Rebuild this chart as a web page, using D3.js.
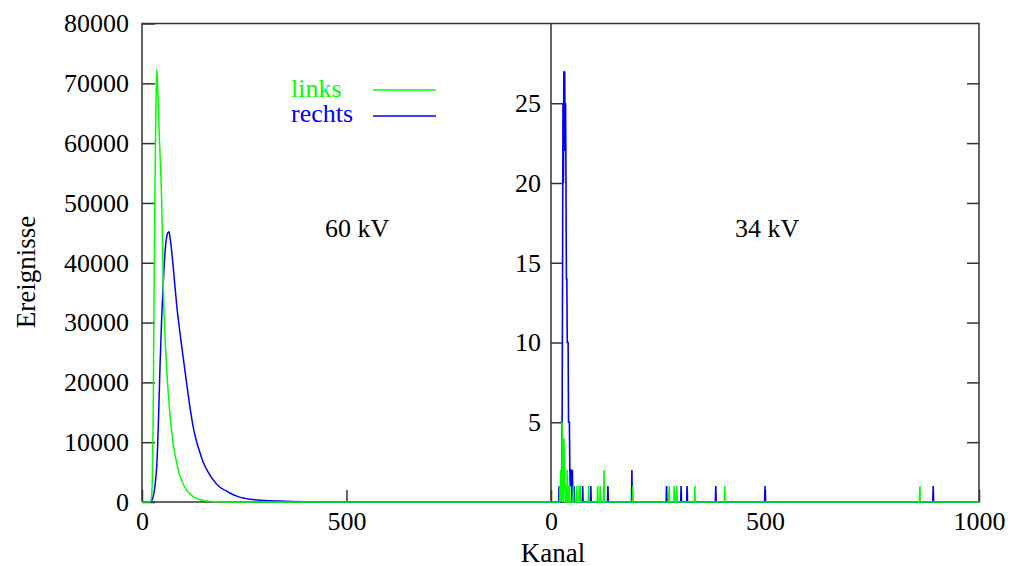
<!DOCTYPE html>
<html>
<head>
<meta charset="utf-8">
<script src="https://cdn.jsdelivr.net/npm/d3@7"></script>
<style>
  body { margin: 0; background: #fff; }
  text { font-family: "Liberation Serif", "DejaVu Serif", serif; }
</style>
</head>
<body>
<script>
'use strict';

// 60 kV spectrum (left), channel -> events
const leftGreenCh  = [0, 18, 22, 25, 27, 29, 31, 33, 35, 36, 38, 40, 43, 46, 48, 50, 52, 55, 60, 65, 70, 75, 80, 86, 93, 100, 110, 125, 140, 158, 180, 220, 280, 1000];
const leftGreenVal = [0, 0, 300, 3000, 12000, 30000, 48000, 60000, 70000, 72300, 70000, 66000, 60000, 55000, 50500, 44000, 36000, 30000, 22600, 17500, 13500, 10500, 8200, 6200, 4300, 3100, 1900, 900, 420, 170, 60, 15, 0, 0];
const leftBlueCh   = [0, 18, 22, 26, 30, 33, 36, 40, 44, 48, 52, 56, 60, 63, 66, 69, 72, 76, 80, 85, 93, 100, 109, 117, 125, 133, 142, 150, 160, 174, 190, 205, 215, 235, 264, 300, 337, 400, 500, 600, 1000];
const leftBlueVal  = [0, 0, 150, 600, 1800, 3500, 5900, 13000, 22600, 30500, 36600, 41500, 44200, 45000, 45200, 44000, 42300, 39600, 36500, 32800, 28200, 24500, 19900, 16000, 12600, 10200, 8200, 6600, 5200, 3700, 2500, 1900, 1500, 900, 450, 250, 150, 50, 10, 0, 0];

// 34 kV spectrum (right), only channels with events
const rightGreenCh  = [21, 23, 24, 26, 27, 28, 30, 31, 32, 33, 35, 38, 40, 43, 52, 60, 66, 68, 88, 109, 115, 124, 191, 276, 288, 294, 336, 406, 862];
const rightGreenCnt = [1, 2, 1, 5, 3, 2, 4, 3, 2, 1, 1, 2, 1, 1, 1, 1, 1, 1, 1, 1, 1, 2, 1, 1, 1, 1, 1, 1, 1];
const rightBlueCh   = [19, 25, 26, 27, 28, 29, 30, 31, 32, 33, 34, 35, 36, 37, 38, 39, 40, 41, 42, 43, 44, 45, 46, 47, 48, 50, 54, 74, 93, 133, 189, 270, 304, 318, 385, 500, 893];
const rightBlueCnt  = [1, 2, 5, 14, 25, 20, 27, 25, 27, 22, 25, 20, 14, 14, 10, 10, 10, 5, 5, 5, 2, 1, 2, 2, 1, 2, 1, 1, 1, 1, 2, 1, 1, 1, 1, 1, 1];

const leftYTicks  = [0, 10000, 20000, 30000, 40000, 50000, 60000, 70000, 80000];
const rightYTicks = [5, 10, 15, 20, 25];
const frameYTicks = [10000, 20000, 30000, 40000, 50000, 60000, 70000];
const leftXTicks  = [0, 500];
const rightXTicks = [0, 500, 1000];

const green = "#00ff00", blue = "#0000ff", frame = "#333";

let width = 1009, height = 566;

let svg = d3.select("body").append("svg")
  .attr("width", width)
  .attr("height", height);

// scales
let xL = d3.scaleLinear().domain([0, 1000]).range([142, 551]);
let xR = d3.scaleLinear().domain([0, 1000]).range([551, 979]);
let yL = d3.scaleLinear().domain([0, 80000]).range([502, 23.5]);
let yR = d3.scaleLinear().domain([0, 30]).range([502, 23.5]);

function styleAxis(g) {
  g.select(".domain").remove();
  g.selectAll(".tick line").attr("stroke", frame).attr("stroke-width", 1.5);
  g.selectAll("text").attr("font-size", 26).attr("fill", "#000");
}

// axes with inward ticks
svg.append("g")
  .attr("transform", "translate(142,0)")
  .call(d3.axisLeft(yL).tickValues(leftYTicks).tickSize(-13).tickPadding(13).tickFormat(d3.format("d")))
  .call(styleAxis);

svg.append("g")
  .attr("transform", "translate(551,0)")
  .call(d3.axisLeft(yR).tickValues(rightYTicks).tickSize(-12).tickPadding(10).tickFormat(d3.format("d")))
  .call(styleAxis);

svg.append("g")
  .attr("transform", "translate(979,0)")
  .call(d3.axisRight(yL).tickValues(frameYTicks).tickSize(-12).tickFormat(""))
  .call(styleAxis);

svg.append("g")
  .attr("transform", "translate(0,502)")
  .call(d3.axisBottom(xL).tickValues(leftXTicks).tickSize(-12).tickPadding(10).tickFormat(d3.format("d")))
  .call(styleAxis);

svg.append("g")
  .attr("transform", "translate(0,502)")
  .call(d3.axisBottom(xR).tickValues(rightXTicks).tickSize(-12).tickPadding(10).tickFormat(d3.format("d")))
  .call(styleAxis);

// frame
svg.append("path")
  .attr("d", `M142,502V23.5H979V502H142M551,23.5V502`)
  .attr("fill", "none")
  .attr("stroke", frame)
  .attr("stroke-width", 1.5);

// left curves
function drawCurve(chs, vals, x, y, color, w) {
  let pts = chs.map((c, i) => [c, vals[i]]);
  svg.append("path")
    .datum(pts)
    .attr("fill", "none")
    .attr("stroke", color)
    .attr("stroke-width", w)
    .attr("stroke-linejoin", "round")
    .attr("d", d3.line().x(d => x(d[0])).y(d => y(d[1])).curve(d3.curveMonotoneX));
}

drawCurve(leftBlueCh, leftBlueVal, xL, yL, blue, 1.5);
drawCurve(leftGreenCh, leftGreenVal, xL, yL, green, 1.5);

// right spectrum: every channel, zero where no event
function drawSpectrum(chs, cnts, color) {
  let counts = new Map(chs.map((c, i) => [c, cnts[i]]));
  let pts = d3.range(0, 1001).map(c => [c, counts.get(c) || 0]);
  svg.append("path")
    .datum(pts)
    .attr("fill", "none")
    .attr("stroke", color)
    .attr("stroke-width", 1.6)
    .attr("d", d3.line().x(d => xR(d[0])).y(d => yR(d[1])));
}

drawSpectrum(rightBlueCh, rightBlueCnt, blue);
drawSpectrum(rightGreenCh, rightGreenCnt, green);

// labels
svg.append("text")
  .attr("x", 325).attr("y", 237)
  .attr("font-size", 26)
  .text("60 kV");

svg.append("text")
  .attr("x", 735).attr("y", 237)
  .attr("font-size", 26)
  .text("34 kV");

svg.append("text")
  .attr("x", 553).attr("y", 562)
  .attr("text-anchor", "middle")
  .attr("font-size", 27)
  .text("Kanal");

svg.append("text")
  .attr("transform", "translate(35,272) rotate(-90)")
  .attr("text-anchor", "middle")
  .attr("font-size", 27)
  .text("Ereignisse");

// legend
let legend = [["links", green, 97, 90], ["rechts", blue, 122, 116]];
legend.forEach(l => {
  svg.append("text")
    .attr("x", 291).attr("y", l[2])
    .attr("font-size", 26)
    .attr("fill", l[1])
    .text(l[0]);
  svg.append("line")
    .attr("x1", 373).attr("x2", 436)
    .attr("y1", l[3]).attr("y2", l[3])
    .attr("stroke", l[1])
    .attr("stroke-width", 1.5);
});
</script>
</body>
</html>
